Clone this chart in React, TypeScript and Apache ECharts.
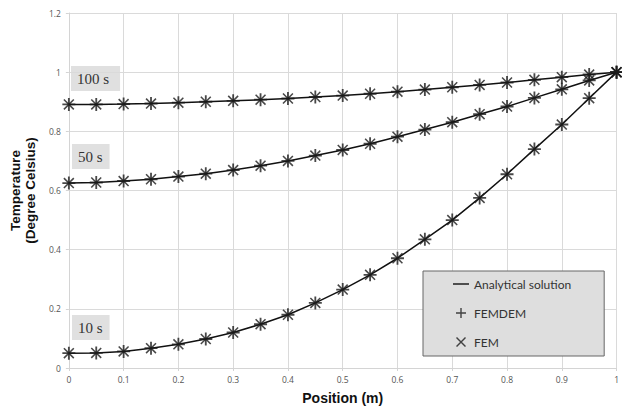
import React, { useEffect, useRef } from "react";
import * as echarts from "echarts";

// Positions along the bar (m)
const positions = [0, 0.05, 0.1, 0.15, 0.2, 0.25, 0.3, 0.35, 0.4, 0.45, 0.5, 0.55, 0.6, 0.65, 0.7, 0.75, 0.8, 0.85, 0.9, 0.95, 1];

// Temperature profiles at three times
const temp10s = [0.05, 0.051, 0.056, 0.067, 0.08, 0.098, 0.12, 0.148, 0.18, 0.22, 0.265, 0.315, 0.371, 0.435, 0.5, 0.575, 0.655, 0.74, 0.823, 0.912, 1.0];
const temp50s = [0.625, 0.627, 0.632, 0.638, 0.647, 0.657, 0.669, 0.684, 0.7, 0.718, 0.737, 0.758, 0.782, 0.806, 0.831, 0.858, 0.884, 0.913, 0.942, 0.972, 1.0];
const temp100s = [0.891, 0.891, 0.892, 0.894, 0.897, 0.9, 0.903, 0.907, 0.911, 0.916, 0.921, 0.927, 0.934, 0.941, 0.949, 0.957, 0.965, 0.974, 0.983, 0.992, 1.0];

const profiles = [temp10s, temp50s, temp100s];
const timeLabels = ["10 s", "50 s", "100 s"];

const PLUS = "path://M4.3,0 L5.7,0 L5.7,10 L4.3,10 Z M0,4.3 L10,4.3 L10,5.7 L0,5.7 Z";
const CROSS = "path://M0,1 L1,0 L10,9 L9,10 Z M9,0 L10,1 L1,10 L0,9 Z";
const DASH = "path://M0,0 L16,0 L16,1.4 L0,1.4 Z";

export default function App() {
  const ref = useRef<HTMLDivElement>(null);

  useEffect(() => {
    if (!ref.current) return;
    const chart = echarts.init(ref.current, undefined, { renderer: "svg" });

    const series: any[] = [];
    profiles.forEach((vals) => {
      const pts = positions.map((x, i) => [x, vals[i]]);
      series.push({
        name: "Analytical solution",
        type: "line",
        data: pts,
        showSymbol: false,
        symbol: "none",
        lineStyle: { color: "#111", width: 1.5 },
        itemStyle: { color: "#111" },
        z: 2,
      });
      series.push({
        name: "FEMDEM",
        type: "scatter",
        data: pts,
        symbol: PLUS,
        symbolSize: 13,
        itemStyle: { color: "#1a1a1a" },
        z: 3,
      });
      series.push({
        name: "FEM",
        type: "scatter",
        data: pts,
        symbol: CROSS,
        symbolSize: 11,
        itemStyle: { color: "#1a1a1a" },
        z: 3,
      });
    });

    const labelStyle = {
      fontFamily: "Liberation Serif",
      fontSize: 15,
      fill: "#333",
      backgroundColor: "#e0e0e0",
    };

    chart.setOption({
      animation: false,
      grid: { left: 68, right: 1, top: 13, bottom: 43, containLabel: false },
      xAxis: {
        type: "value",
        min: 0,
        max: 1,
        interval: 0.1,
        name: "Position (m)",
        nameLocation: "middle",
        nameGap: 23,
        nameTextStyle: { fontFamily: "Liberation Sans", fontWeight: "bold", fontSize: 14, color: "#111" },
        axisLine: { show: true, lineStyle: { color: "#d4d4d4" } },
        axisTick: { show: true, length: 3, lineStyle: { color: "#d4d4d4" } },
        axisLabel: { fontFamily: "Open Sans", fontSize: 8.5, color: "#555", margin: 7 },
        splitLine: { show: true, lineStyle: { color: "#dadada" } },
      },
      yAxis: {
        type: "value",
        min: 0,
        max: 1.2,
        interval: 0.2,
        name: "Temperature\n(Degree Celsius)",
        nameLocation: "middle",
        nameRotate: 90,
        nameGap: 29,
        nameTextStyle: { fontFamily: "Liberation Sans", fontWeight: "bold", fontSize: 13.5, color: "#111", lineHeight: 15 },
        axisLine: { show: true, lineStyle: { color: "#d4d4d4" } },
        axisTick: { show: true, length: 3, lineStyle: { color: "#d4d4d4" } },
        axisLabel: { fontFamily: "Open Sans", fontSize: 8.5, color: "#555", margin: 8 },
        splitLine: { show: true, lineStyle: { color: "#dadada" } },
      },
      legend: {
        orient: "vertical",
        left: 423,
        top: 271,
        itemWidth: 16,
        itemHeight: 10,
        itemGap: 17,
        padding: [7, 33, 8, 30],
        backgroundColor: "#dedede",
        borderColor: "#666",
        borderWidth: 1,
        borderRadius: 0,
        textStyle: { fontFamily: "Lato", fontSize: 12, color: "#333" },
        data: [
          { name: "Analytical solution", icon: DASH },
          { name: "FEMDEM", icon: PLUS },
          { name: "FEM", icon: CROSS },
        ],
      },
      graphic: [
        { type: "text", left: 72, top: 315, style: { text: timeLabels[0], ...labelStyle, padding: [5, 7, 5, 6] } },
        { type: "text", left: 72, top: 144, style: { text: timeLabels[1], ...labelStyle, padding: [5, 7, 5, 6] } },
        { type: "text", left: 71, top: 66, style: { text: timeLabels[2], ...labelStyle, padding: [5, 11, 5, 6] } },
      ],
      series,
    });

    return () => chart.dispose();
  }, []);

  return (
    <div
      ref={ref}
      style={{ position: "absolute", left: 0, top: 0, width: 622, height: 411, background: "#fff" }}
    />
  );
}
